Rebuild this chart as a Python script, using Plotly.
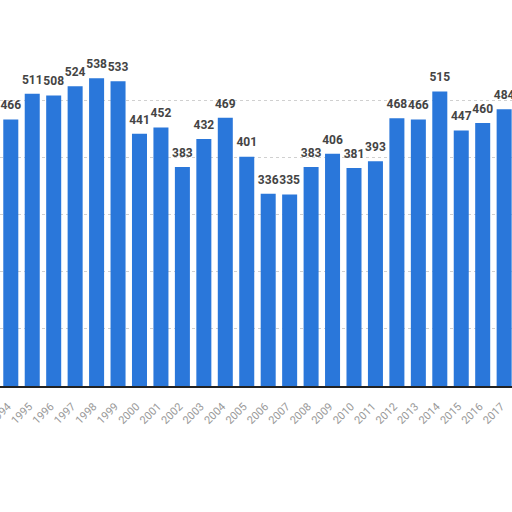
import plotly.graph_objects as go

years = [str(y) for y in range(1994, 2018)]
values = [466, 511, 508, 524, 538, 533, 441, 452, 383, 432, 469, 401,
          336, 335, 383, 406, 381, 393, 468, 466, 515, 447, 460, 484]
labels = [str(v) for v in values]
grid_values = [100, 200, 300, 400, 500]

fig = go.Figure()
fig.add_trace(go.Bar(
    x=years, y=values,
    marker=dict(color="#2a77da", line=dict(width=0)),
    width=0.7, hoverinfo="skip",
))
fig.add_trace(go.Scatter(
    x=years, y=values, text=labels, mode="markers+text",
    textposition="top center",
    marker=dict(size=10, color="rgba(0,0,0,0)"),
    textfont=dict(family="Roboto", size=12, color="#444444", weight="bold"),
    cliponaxis=False, hoverinfo="skip",
))

fig.update_layout(
    width=512, height=512,
    margin=dict(l=0, r=0, t=0, b=126, autoexpand=False),
    plot_bgcolor="white", paper_bgcolor="white",
    showlegend=False,
)
fig.update_xaxes(
    type="category", range=[-0.503, 23.366], automargin=False,
    tickangle=-45, tickfont=dict(family="Roboto", size=11, color="#999999"),
    ticklabelstandoff=8, ticklabelshift=-3,
    showline=True, linecolor="#222222", linewidth=1.5,
    ticks="", showgrid=False,
)
fig.update_yaxes(
    range=[0, 675], showticklabels=False, zeroline=False, automargin=False,
    tickvals=grid_values,
    showgrid=True, gridcolor="#d0d0d0", griddash="dot", gridwidth=1,
)

fig.write_html("out.html", config={"displayModeBar": False},
               post_script="document.body.style.margin='0px';")
